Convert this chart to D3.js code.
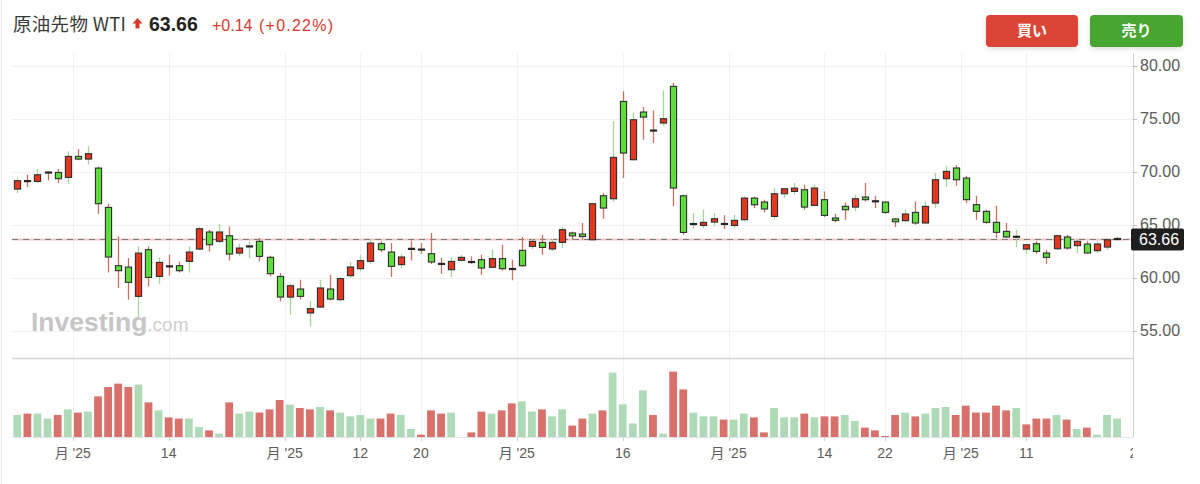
<!DOCTYPE html>
<html><head><meta charset="utf-8">
<script src="https://cdn.jsdelivr.net/npm/d3@7"></script>
<style>html,body{margin:0;padding:0;background:#fff;overflow:hidden}</style>
</head><body><svg id="c" width="1200" height="484"></svg>
<script>
// ---- data ----
const openP  = [68.36,69.12,69.08,69.93,69.93,69.46,71.44,71.19,70.34,66.63,61.13,61.00,58.24,62.64,60.12,61.08,61.13,61.54,62.70,64.31,63.43,63.96,62.32,62.94,63.43,61.92,60.12,58.17,58.93,56.67,57.23,58.93,57.93,60.19,60.85,61.54,63.21,62.42,61.23,62.73,62.66,62.27,61.31,60.76,61.64,61.49,61.70,60.98,61.80,60.84,62.58,62.96,63.33,62.71,63.33,64.22,64.12,63.58,67.73,67.45,76.63,71.13,75.63,73.89,74.59,78.05,67.73,65.05,64.93,65.25,65.08,64.93,65.47,67.51,67.14,65.78,67.92,68.14,68.30,66.82,67.36,65.63,66.73,66.66,67.61,67.22,67.14,65.54,65.38,66.16,65.16,67.04,69.34,70.35,69.40,66.89,66.26,65.22,64.37,63.84,62.70,63.21,62.33,62.73,63.84,63.02,63.18,62.55,62.89,63.64];
const highP  = [69.40,69.71,70.25,70.03,70.25,71.92,72.14,72.39,70.50,66.98,63.90,61.85,62.95,62.95,61.92,62.17,61.54,62.95,64.84,64.53,65.09,64.84,63.21,63.43,63.74,62.07,60.44,59.43,59.81,57.77,59.81,60.28,60.06,61.45,62.17,63.59,63.43,63.27,62.26,63.52,63.27,64.22,61.86,61.95,62.17,62.01,62.17,62.64,63.11,61.70,63.84,63.65,64.06,63.65,64.78,64.37,65.16,67.00,67.98,74.75,77.58,75.59,76.10,75.78,77.67,78.36,67.83,66.10,66.41,66.10,65.88,65.94,67.67,67.67,67.36,68.46,68.46,68.93,68.77,68.77,68.14,66.03,67.10,67.83,68.93,67.73,67.20,65.63,66.41,67.20,67.20,69.87,70.57,70.60,69.62,67.73,66.41,66.79,65.16,64.53,63.21,63.43,62.64,64.06,64.06,63.65,63.43,63.43,63.74,63.90];
const lowP   = [67.99,68.55,68.93,69.18,68.93,68.87,71.07,70.66,66.04,60.50,59.02,57.92,56.30,59.18,59.43,60.19,60.50,60.50,62.58,62.48,63.27,61.63,62.07,61.85,61.54,60.12,57.76,56.51,57.93,55.41,57.14,57.86,57.77,59.97,60.60,61.32,62.39,60.06,60.91,61.63,62.27,61.29,60.38,60.06,61.54,61.32,60.28,60.91,60.69,59.75,61.01,62.71,62.17,62.49,62.80,63.59,63.59,63.50,65.56,67.14,69.40,71.07,73.02,72.70,74.34,66.73,64.05,64.59,64.68,64.84,64.59,64.68,65.31,66.57,66.16,65.47,67.51,67.83,66.41,66.73,65.72,65.22,65.47,66.26,67.20,66.57,66.04,64.78,65.22,65.00,65.09,66.57,68.55,68.68,67.04,65.47,65.09,63.74,63.74,62.89,62.26,62.26,61.32,62.64,62.64,62.33,62.26,62.33,62.64,63.52];
const closeP = [69.15,69.10,69.71,69.91,69.34,71.44,71.19,71.70,66.98,61.95,60.66,59.56,62.32,60.03,61.44,61.06,60.66,62.42,64.62,63.11,64.31,62.23,62.80,62.96,62.01,60.38,58.17,59.24,58.24,57.08,59.03,57.99,59.91,61.01,61.61,63.27,62.64,61.07,61.95,62.71,62.64,61.48,61.29,61.54,61.92,61.47,60.91,61.80,60.85,60.80,61.13,63.43,62.86,63.33,64.53,63.95,63.88,66.98,66.57,71.35,71.76,74.90,75.15,73.87,75.00,68.46,64.27,65.07,65.22,65.56,65.06,65.41,67.51,66.88,66.48,67.92,68.39,68.45,66.66,68.46,65.88,65.41,66.41,67.45,67.36,67.20,66.16,65.28,66.01,65.16,66.73,69.24,70.03,69.24,67.36,66.26,65.22,64.28,63.84,63.88,63.11,62.48,61.92,63.96,62.80,63.43,62.33,63.18,63.58,63.66];
const volume = [110,117,117,92,110,138,122,127,203,250,267,250,262,173,133,98,92,92,50,33,17,173,117,127,122,138,185,162,145,138,150,133,122,103,110,92,92,117,110,40,12,133,117,122,0,23,127,117,133,168,178,127,138,103,138,57,92,117,133,322,163,68,233,110,17,327,238,122,103,103,87,87,117,98,23,145,98,98,117,98,103,103,110,80,47,33,5,110,122,103,117,145,150,110,157,122,122,157,133,145,63,92,92,110,87,40,47,12,110,92];
const yTicks = [55,60,65,70,75,80];
const xTickPos = [5.5,15,26.5,34,40,49.5,60,70.5,80,86,93.5,100,111];
const xTickLabels = ["月 '25","14","月 '25","12","20","月 '25","16","月 '25","14","22","月 '25","11","26"];
const lastPrice = 63.66;
const title = "原油先物 WTI", priceTxt = "63.66", chgTxt = "+0.14", pctTxt = "(+0.22%)";

// ---- layout ----
const svg = d3.select('#c');
const L = 12, R = 1133, T = 53, SEP = 358.5, VB = 437;
const x = d3.scaleLinear().domain([0, 109]).range([17.3, 1117.1]);
const y = d3.scaleLinear().domain([55, 80]).range([330.7, 65.7]);
const yv = d3.scaleLinear().domain([0, 400]).range([VB, VB - 80]);
const NUM = "'Liberation Sans', Arial, 'Noto Sans CJK JP', sans-serif";
const JP = "'Noto Sans CJK JP', 'Liberation Sans', sans-serif";

const defs = svg.append('defs');
defs.append('clipPath').attr('id', 'clipP').append('rect').attr('x', L).attr('y', T).attr('width', R - L).attr('height', SEP - T);
defs.append('clipPath').attr('id', 'clipX').append('rect').attr('x', 0).attr('y', 437).attr('width', R).attr('height', 47);
const f = defs.append('filter').attr('id', 'sh').attr('x', '-20%').attr('y', '-30%').attr('width', '140%').attr('height', '170%');
f.append('feDropShadow').attr('dx', 0).attr('dy', 2).attr('stdDeviation', 2.5).attr('flood-color', '#000').attr('flood-opacity', 0.13);

// left border
svg.append('line').attr('x1', 1.5).attr('x2', 1.5).attr('y1', 0).attr('y2', 484).attr('stroke', '#e6e6e6');

// grid
svg.append('g').selectAll('line').data(yTicks).join('line')
  .attr('x1', L).attr('x2', R).attr('y1', d => Math.round(y(d)) + 0.5).attr('y2', d => Math.round(y(d)) + 0.5)
  .attr('stroke', '#f1f1f1');
svg.append('g').selectAll('line').data(xTickPos).join('line')
  .attr('x1', d => Math.round(x(d)) + 0.5).attr('x2', d => Math.round(x(d)) + 0.5)
  .attr('y1', T).attr('y2', VB).attr('stroke', '#f2f2f2')
  .attr('display', d => x(d) > R ? 'none' : null);

// watermark (single text element)
const wm = svg.append('text').attr('x', 31).attr('y', 331).attr('font-family', NUM);
wm.append('tspan').attr('font-weight', 'bold').attr('font-size', 26.5).attr('fill', '#c6c6c6').text('Investing');
wm.append('tspan').attr('font-size', 19).attr('fill', '#cdcdcd').text('.com');

// current price line
const yl = Math.round(y(lastPrice)) + 0.5;
svg.append('line').attr('x1', L).attr('x2', R).attr('y1', yl).attr('y2', yl).attr('stroke', '#f5c6c6').attr('stroke-width', 2);
svg.append('line').attr('x1', L).attr('x2', R).attr('y1', yl).attr('y2', yl).attr('stroke', '#7d7d7d').attr('stroke-width', 1.2).attr('stroke-dasharray', '6,5');

// candles
const data = openP.map((o, i) => ({ i, o, h: highP[i], l: lowP[i], c: closeP[i], v: volume[i] }));
const cg = svg.append('g').attr('clip-path', 'url(#clipP)');
cg.selectAll('line.w').data(data).join('line').attr('class', 'w')
  .attr('x1', d => Math.round(x(d.i)) + 0.5).attr('x2', d => Math.round(x(d.i)) + 0.5)
  .attr('y1', d => y(d.h)).attr('y2', d => y(d.l))
  .attr('stroke', d => d.c >= d.o ? '#a3d698' : '#c9735f').attr('stroke-width', 1.3);
cg.selectAll('rect.b').data(data).join('rect').attr('class', 'b')
  .each(function (d) {
    const top = y(Math.max(d.o, d.c)), bot = y(Math.min(d.o, d.c));
    const s = d3.select(this);
    const cx = Math.round(x(d.i)) + 0.5;
    if (bot - top < 1.6) {
      s.attr('x', cx - 3.6).attr('width', 7.2).attr('y', (top + bot) / 2 - 1.1).attr('height', 2.2).attr('fill', '#262626');
    } else {
      s.attr('x', cx - 3.1).attr('width', 6.2).attr('y', top).attr('height', bot - top)
        .attr('fill', d.c > d.o ? '#e5361f' : '#5ddc3c').attr('stroke', '#2e2e2e').attr('stroke-width', 1.1);
    }
  });

// volume
svg.append('g').selectAll('rect').data(data).join('rect')
  .attr('x', d => x(d.i) - 3.9).attr('width', 7.8)
  .attr('y', d => yv(d.v)).attr('height', d => VB - yv(d.v))
  .attr('fill', d => (d.i === 0 || d.c >= closeP[d.i - 1]) ? '#afdab7' : '#d8716b');

// separator, bottom, right axis
svg.append('line').attr('x1', L).attr('x2', R).attr('y1', SEP).attr('y2', SEP).attr('stroke', '#d5d5d5').attr('stroke-width', 1.5);
svg.append('line').attr('x1', L).attr('x2', R).attr('y1', VB + 0.5).attr('y2', VB + 0.5).attr('stroke', '#e2e5ec');
svg.append('line').attr('x1', R + 0.5).attr('x2', R + 0.5).attr('y1', T).attr('y2', VB).attr('stroke', '#d2d2d2');

// y axis labels
const ya = svg.append('g');
ya.selectAll('line').data(yTicks).join('line')
  .attr('x1', R).attr('x2', R + 4).attr('y1', d => Math.round(y(d)) + 0.5).attr('y2', d => Math.round(y(d)) + 0.5).attr('stroke', '#bbb');
ya.selectAll('text').data(yTicks).join('text')
  .attr('x', 1140).attr('y', d => y(d)).attr('dy', '0.35em')
  .attr('font-family', NUM).attr('font-size', 16).attr('fill', '#5a5a5a')
  .text(d3.format('.2f'));

// price tag
svg.append('rect').attr('x', 1131).attr('y', yl - 11).attr('width', 53).attr('height', 22).attr('rx', 2).attr('fill', '#1e1e1e');
svg.append('text').attr('x', 1139).attr('y', yl).attr('dy', '0.36em').attr('font-family', NUM)
  .attr('font-size', 16).attr('fill', '#fff').text(d3.format('.2f')(lastPrice));

// x axis
const xa = svg.append('g').attr('clip-path', 'url(#clipX)');
xa.selectAll('line').data(xTickPos).join('line')
  .attr('x1', d => Math.round(x(d)) + 0.5).attr('x2', d => Math.round(x(d)) + 0.5)
  .attr('y1', VB).attr('y2', VB + 4).attr('stroke', '#d0d0d0');
xa.selectAll('text').data(xTickPos).join('text')
  .attr('x', d => x(d)).attr('y', 458).attr('text-anchor', 'middle')
  .attr('font-family', NUM).attr('font-size', 14).attr('fill', '#5c5c5c')
  .text((d, i) => xTickLabels[i]);

// header
svg.append('text').attr('x', 13).attr('y', 31).attr('font-family', JP).attr('font-size', 18.5)
  .attr('textLength', 113).attr('lengthAdjust', 'spacing').attr('fill', '#3a3a3a').text(title);
svg.append('path').attr('d', 'M137.5,18 L142.5,23.5 L139.5,23.5 L139.5,28.5 L135.5,28.5 L135.5,23.5 L132.5,23.5 Z').attr('fill', '#d63a2c');
svg.append('text').attr('x', 149).attr('y', 31).attr('font-family', NUM).attr('font-weight', 'bold').attr('font-size', 19.5).attr('fill', '#222').text(priceTxt);
svg.append('text').attr('x', 212).attr('y', 31).attr('font-family', NUM).attr('font-size', 16).attr('fill', '#d63a2c').text(chgTxt);
svg.append('text').attr('x', 259).attr('y', 31).attr('font-family', NUM).attr('font-size', 16).attr('fill', '#d63a2c')
  .attr('textLength', 74).attr('lengthAdjust', 'spacing').text(pctTxt);

// buttons
const btns = [{ x: 986, w: 92, fill: '#dc4434', t: '買い' }, { x: 1090, w: 93, fill: '#4aa533', t: '売り' }];
const bg = svg.append('g').selectAll('g').data(btns).join('g');
bg.append('rect').attr('x', d => d.x).attr('y', 15).attr('width', d => d.w).attr('height', 32).attr('rx', 4)
  .attr('fill', d => d.fill).attr('filter', 'url(#sh)');
bg.append('text').attr('x', d => d.x + d.w / 2).attr('y', 31).attr('dy', '0.36em').attr('text-anchor', 'middle')
  .attr('font-family', JP).attr('font-weight', 'bold').attr('font-size', 15).attr('fill', '#fff').text(d => d.t);
</script></body></html>
